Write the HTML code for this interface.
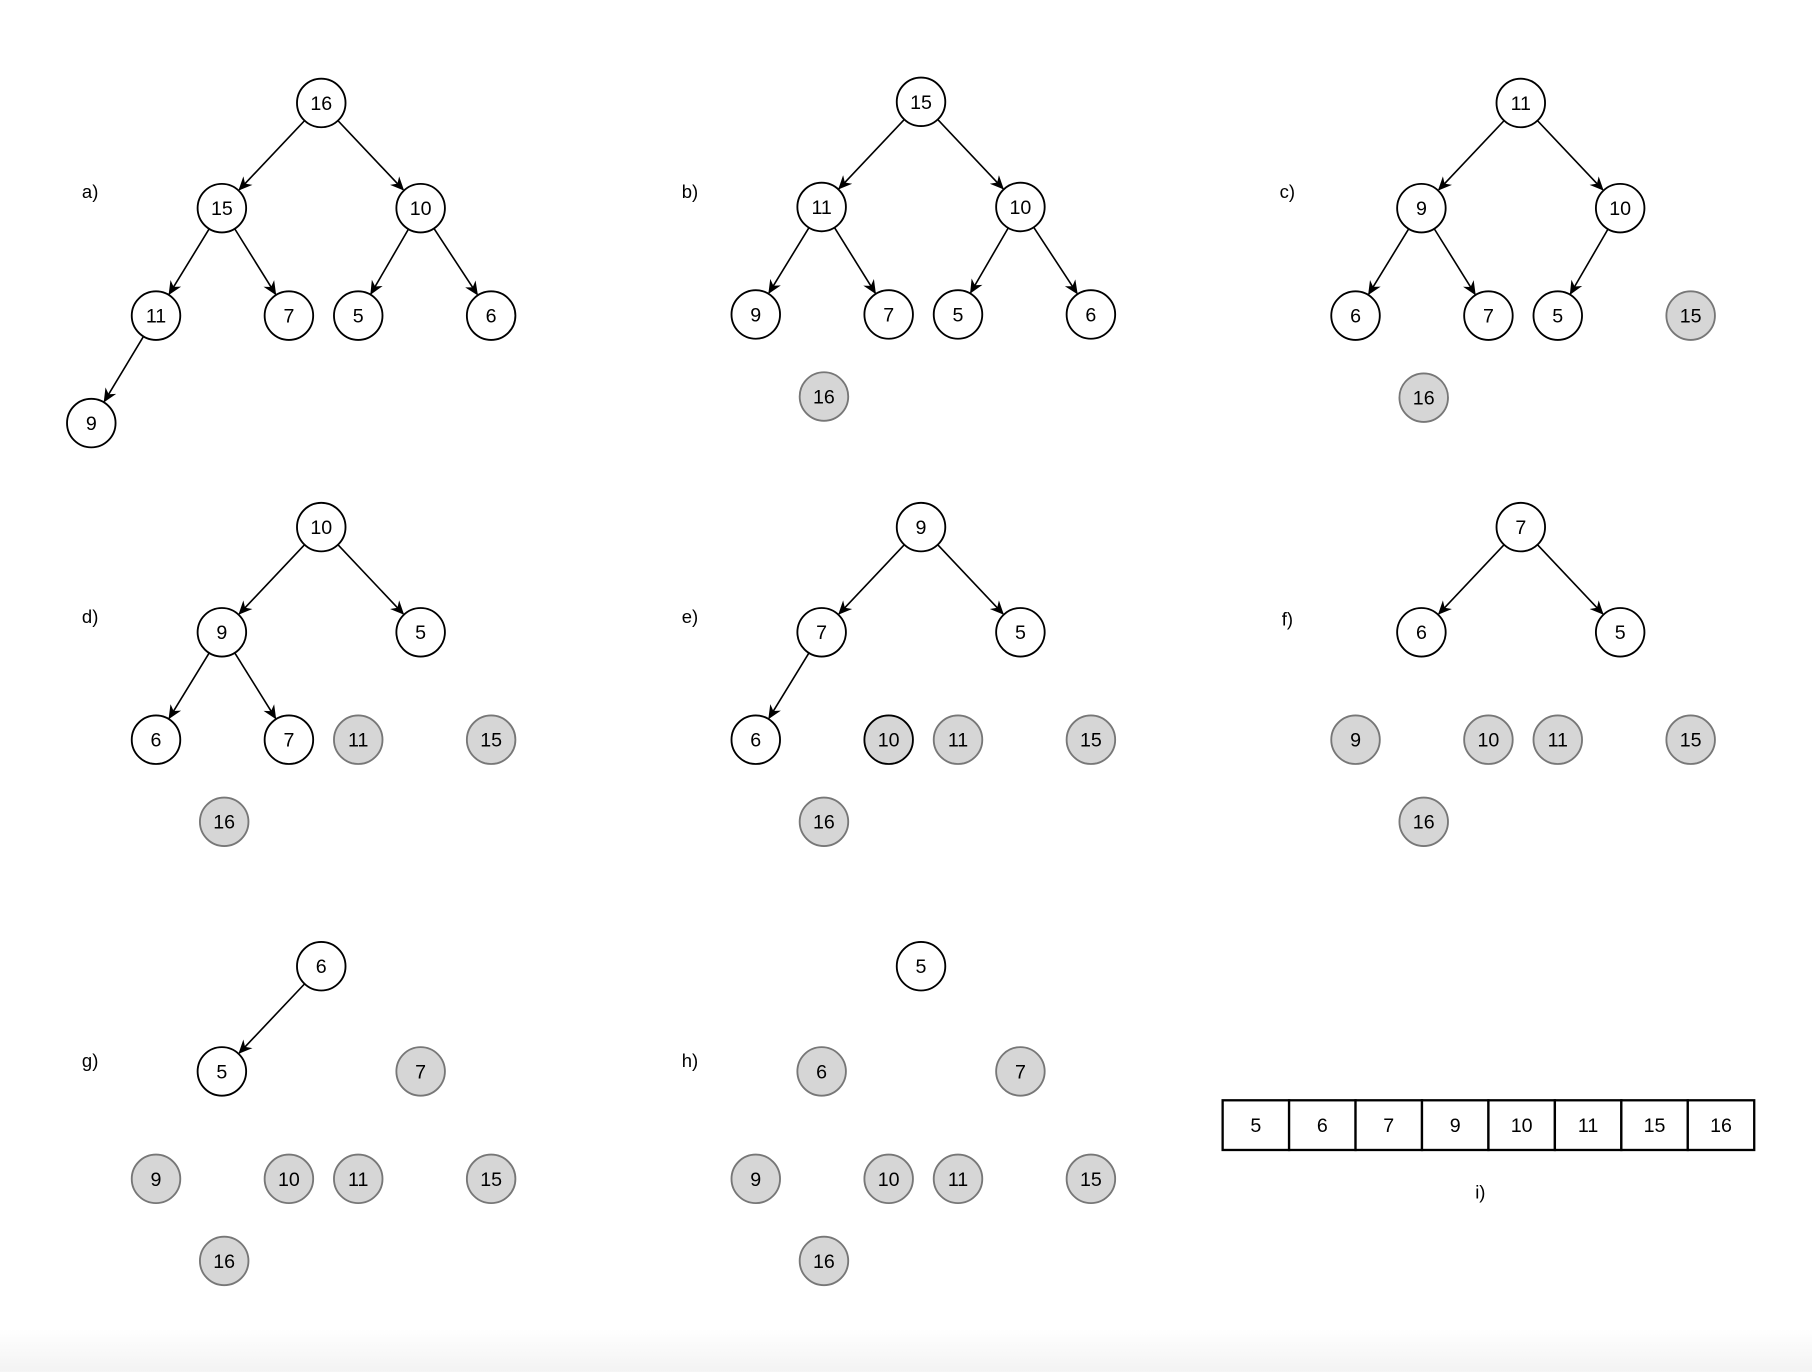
<!DOCTYPE html>
<html><head><meta charset="utf-8"><style>
html,body{margin:0;padding:0;background:#fff;}
svg{display:block;}
text{font-family:"Liberation Sans",Arial,sans-serif;}
</style></head><body>
<svg id="fig" width="1812" height="1372" viewBox="0 0 1568 1187" xmlns="http://www.w3.org/2000/svg">
<defs>
<marker id="arr" viewBox="0 0 10 10" refX="9" refY="5" markerWidth="12" markerHeight="12" orient="auto" markerUnits="userSpaceOnUse">
<path d="M0,0.5 L10,5 L0,9.5 L3,5 z" fill="#000"/>
</marker>
<linearGradient id="bottomfade" x1="0" y1="0" x2="0" y2="1">
<stop offset="0" stop-color="#fff"/><stop offset="1" stop-color="#f3f3f3"/>
</linearGradient>
</defs>
<rect x="0" y="0" width="1568" height="1187" fill="#fff"/>
<rect x="0" y="1150" width="1568" height="37" fill="url(#bottomfade)"/>
</svg>
<script>
const slotNames = ["root","L","R","LL","LR","RL","RR","LLL","X"];
const slotDX = [0,-86,86,-143,-28,32,147,-199,-84];
const slotDY = [0,91,91,184,184,184,184,277,255];
const panelLabels = ["a)","b)","c)","d)","e)","f)","g)","h)"];
const panelX = [0,519,1038,0,519,1038,0,519];
const panelY = [89,88,89,456,456,456,836,836];
const labelX = [78,597,1114,78,597,1114,78,597];
const labelY = [165,165,165,533,533,535,917,917];
// node values per panel: [slot, value, sorted(0 white,1 gray,2 gray dark border)]
const panelNodes = [
 [["root",16,0],["L",15,0],["R",10,0],["LL",11,0],["LR",7,0],["RL",5,0],["RR",6,0],["LLL",9,0]],
 [["root",15,0],["L",11,0],["R",10,0],["LL",9,0],["LR",7,0],["RL",5,0],["RR",6,0],["X",16,1]],
 [["root",11,0],["L",9,0],["R",10,0],["LL",6,0],["LR",7,0],["RL",5,0],["RR",15,1],["X",16,1]],
 [["root",10,0],["L",9,0],["R",5,0],["LL",6,0],["LR",7,0],["RL",11,1],["RR",15,1],["X",16,1]],
 [["root",9,0],["L",7,0],["R",5,0],["LL",6,0],["LR",10,2],["RL",11,1],["RR",15,1],["X",16,1]],
 [["root",7,0],["L",6,0],["R",5,0],["LL",9,1],["LR",10,1],["RL",11,1],["RR",15,1],["X",16,1]],
 [["root",6,0],["L",5,0],["R",7,1],["LL",9,1],["LR",10,1],["RL",11,1],["RR",15,1],["X",16,1]],
 [["root",5,0],["L",6,1],["R",7,1],["LL",9,1],["LR",10,1],["RL",11,1],["RR",15,1],["X",16,1]]
];
const panelEdges = [
 [["root","L"],["root","R"],["L","LL"],["L","LR"],["R","RL"],["R","RR"],["LL","LLL"]],
 [["root","L"],["root","R"],["L","LL"],["L","LR"],["R","RL"],["R","RR"]],
 [["root","L"],["root","R"],["L","LL"],["L","LR"],["R","RL"]],
 [["root","L"],["root","R"],["L","LL"],["L","LR"]],
 [["root","L"],["root","R"],["L","LL"]],
 [["root","L"],["root","R"]],
 [["root","L"]],
 []
];
const arrayValues = [5,6,7,9,10,11,15,16];
const R = 21;
const svg = document.getElementById('fig');
const NS = "http://www.w3.org/2000/svg";
function mk(tag, attrs){const e=document.createElementNS(NS,tag);for(const k in attrs)e.setAttribute(k,attrs[k]);return e;}
function pos(p, slot){const i=slotNames.indexOf(slot);return [278+panelX[p]+slotDX[i], panelY[p]+slotDY[i]];}
for(let p=0;p<panelLabels.length;p++){
  const g=mk('g',{});
  
  
  svg.appendChild(g);
  const lab=mk('text',{x:labelX[p],y:labelY[p]+6,'font-size':16,'text-anchor':'middle',fill:'#000'});
  
  
  lab.textContent=panelLabels[p];
  g.appendChild(lab);
  for(const [a,b] of panelEdges[p]){
    const [x1,y1]=pos(p,a),[x2,y2]=pos(p,b);
    const dx=x2-x1,dy=y2-y1,d=Math.hypot(dx,dy),ux=dx/d,uy=dy/d;
    const ln=mk('line',{x1:x1+ux*R,y1:y1+uy*R,x2:x2-ux*(R+1),y2:y2-uy*(R+1),stroke:'#000','stroke-width':1.4,'marker-end':'url(#arr)'});
    
    
    g.appendChild(ln);
  }
  for(const [slot,val,st] of panelNodes[p]){
    const [x,y]=pos(p,slot);
    const c=mk('circle',{cx:x,cy:y,r:R,fill:st?'#d6d6d6':'#fff',stroke:st===1?'#777':'#000','stroke-width':1.6});
    
    
    g.appendChild(c);
    const t=mk('text',{x:x,y:y+6,'font-size':17,'text-anchor':'middle',fill:'#000'});
    
    
    t.textContent=val;
    g.appendChild(t);
  }
}
const ax0=1058, ax1=1518, ay=952, ah=43;
const cw=(ax1-ax0)/arrayValues.length;
const ag=mk('g',{});


svg.appendChild(ag);
arrayValues.forEach((v,i)=>{
  const r=mk('rect',{x:ax0+i*cw,y:ay,width:cw,height:ah,fill:'#fff',stroke:'#000','stroke-width':2});
  
  
  ag.appendChild(r);
  const t=mk('text',{x:ax0+i*cw+cw/2,y:ay+ah/2+6,'font-size':17,'text-anchor':'middle',fill:'#000'});
  
  
  t.textContent=v;
  ag.appendChild(t);
});
const il=mk('text',{x:1281,y:1037,'font-size':16,'text-anchor':'middle',fill:'#000'});


il.textContent='i)';
svg.appendChild(il);
</script>
</body></html>
